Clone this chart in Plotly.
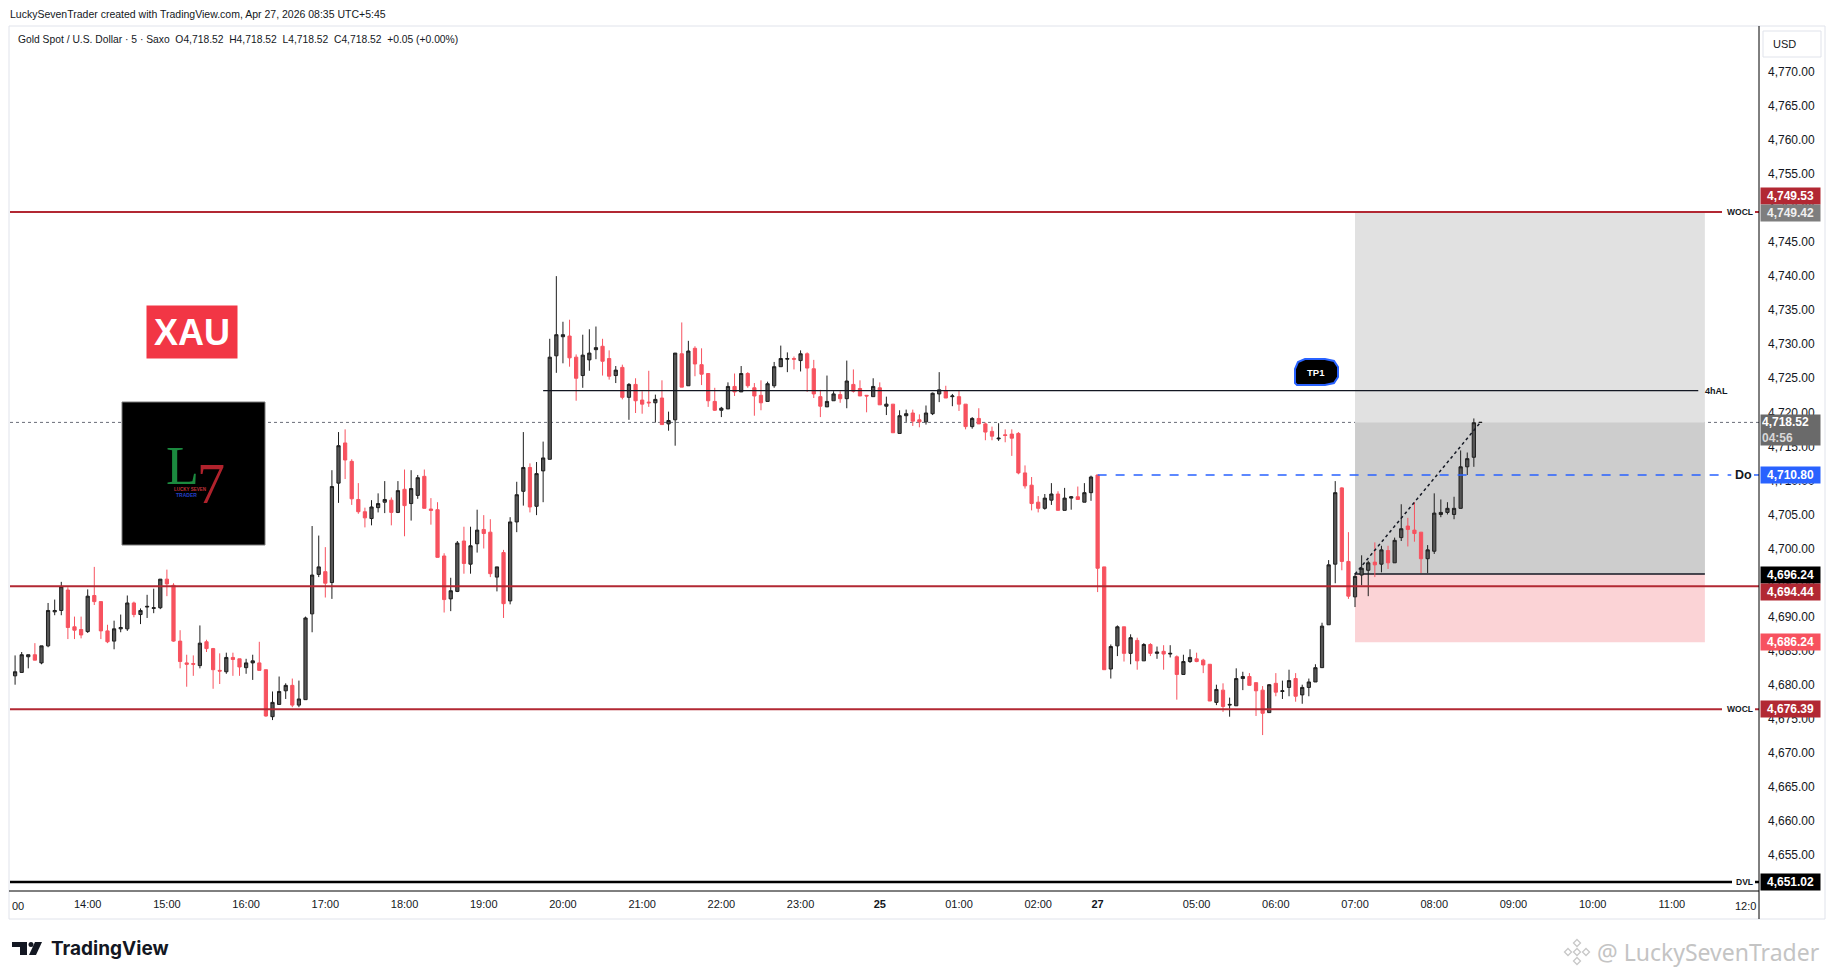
import plotly.graph_objects as go

# ---------------------------------------------------------------
# XAUUSD 5m chart (Saxo) - candles from 13:05 to 08:35
# ---------------------------------------------------------------

# candle opens / highs / lows / closes, one per 5-min bar (index 1..223)
opens = [
    4681.3, 4681.8, 4684.1, 4684.4, 4683.2, 4685.7, 4690.7, 4690.9, 4693.9, 4688.5,
    4688.1, 4687.8, 4693.1, 4692.2, 4687.9, 4686.4, 4688.2, 4688.2, 4692.0, 4690.3,
    4691.4, 4691.2, 4691.3, 4695.5, 4694.6, 4686.4, 4683.2, 4683.1, 4682.8, 4686.3,
    4685.3, 4682.1, 4681.9, 4684.0, 4683.8, 4682.5, 4683.2, 4683.2, 4682.2, 4675.3,
    4677.1, 4679.1, 4679.9, 4677.0, 4677.8, 4690.4, 4696.2, 4696.6, 4695.0, 4709.6,
    4715.5, 4712.8, 4707.2, 4705.4, 4704.4, 4706.0, 4706.8, 4707.1, 4705.3, 4708.7,
    4706.6, 4707.8, 4710.6, 4705.8, 4705.7, 4698.9, 4692.6, 4693.7, 4701.1, 4697.7,
    4700.7, 4702.8, 4702.4, 4695.8, 4699.4, 4692.3, 4703.9, 4708.4, 4711.9, 4706.2,
    4711.4, 4713.1, 4728.3, 4731.1, 4731.2, 4728.1, 4725.4, 4727.7, 4729.2, 4729.7,
    4727.9, 4725.4, 4726.6, 4722.2, 4724.1, 4721.8, 4721.5, 4721.4, 4722.1, 4718.3,
    4718.9, 4728.6, 4723.9, 4729.4, 4727.0, 4725.7, 4721.6, 4720.3, 4720.5, 4723.8,
    4723.0, 4725.7, 4723.6, 4722.5, 4721.6, 4723.9, 4726.7, 4727.8, 4727.9, 4727.6,
    4728.6, 4726.4, 4722.3, 4720.8, 4721.7, 4722.6, 4722.0, 4724.1, 4723.5, 4722.5,
    4722.3, 4723.6, 4720.9, 4721.2, 4716.9, 4719.5, 4719.9, 4718.9, 4718.6, 4719.8,
    4722.7, 4723.2, 4722.3, 4722.3, 4721.2, 4717.9, 4719.1, 4718.3, 4717.2, 4716.1,
    4716.7, 4716.8, 4716.9, 4711.1, 4709.3, 4706.8, 4705.9, 4707.1, 4708.0, 4705.6,
    4707.4, 4707.6, 4706.8, 4708.2, 4710.8, 4697.3, 4682.3, 4685.7, 4688.5, 4684.6,
    4686.5, 4683.5, 4685.9, 4684.6, 4684.9, 4684.5, 4684.1, 4681.5, 4683.4, 4683.8,
    4683.6, 4683.0, 4677.4, 4679.2, 4677.0, 4676.9, 4680.9, 4681.2, 4680.3, 4679.2,
    4675.9, 4680.2, 4679.0, 4679.6, 4680.9, 4678.5, 4679.6, 4680.4, 4682.5, 4688.8,
    4697.7, 4708.9, 4698.1, 4692.9, 4696.1, 4696.8, 4698.0, 4697.7, 4699.7, 4697.9,
    4701.6, 4703.3, 4702.7, 4702.4, 4698.5, 4699.6, 4705.0, 4705.3, 4705.0, 4705.9,
    4712.0, 4713.4, 4718.52,
]
highs = [
    4684.3, 4684.8, 4684.4, 4686.1, 4685.7, 4692.0, 4692.5, 4695.1, 4694.3, 4690.0,
    4690.0, 4694.0, 4697.3, 4692.2, 4688.8, 4689.4, 4690.3, 4693.1, 4692.2, 4691.2,
    4693.2, 4694.1, 4695.5, 4696.9, 4694.9, 4688.0, 4684.4, 4684.3, 4688.7, 4686.6,
    4685.4, 4684.6, 4684.7, 4684.7, 4683.8, 4683.8, 4684.4, 4686.3, 4682.2, 4679.0,
    4681.2, 4680.2, 4680.9, 4680.6, 4690.0, 4703.3, 4701.9, 4700.2, 4711.5, 4717.1,
    4717.5, 4713.1, 4709.6, 4706.0, 4707.1, 4708.1, 4709.9, 4707.5, 4709.9, 4711.6,
    4711.5, 4710.8, 4711.6, 4707.4, 4706.8, 4699.3, 4695.7, 4701.1, 4703.2, 4703.2,
    4705.7, 4704.9, 4704.3, 4697.3, 4699.8, 4704.6, 4709.8, 4717.1, 4712.5, 4712.7,
    4715.7, 4730.8, 4740.0, 4733.3, 4733.6, 4728.5, 4731.4, 4732.2, 4732.6, 4730.8,
    4729.1, 4726.8, 4727.0, 4724.3, 4725.0, 4723.1, 4726.1, 4722.6, 4724.7, 4720.1,
    4728.7, 4733.2, 4730.5, 4729.7, 4729.4, 4725.7, 4723.6, 4720.8, 4724.4, 4725.7,
    4726.8, 4725.9, 4724.3, 4724.7, 4724.5, 4727.4, 4729.8, 4728.8, 4728.2, 4729.1,
    4728.8, 4727.7, 4723.3, 4725.4, 4723.1, 4723.1, 4727.6, 4726.3, 4724.7, 4722.5,
    4725.0, 4724.4, 4722.3, 4721.2, 4720.3, 4720.4, 4720.4, 4719.7, 4721.0, 4722.9,
    4725.9, 4723.9, 4722.7, 4723.2, 4721.2, 4719.3, 4720.6, 4718.5, 4717.9, 4718.4,
    4717.5, 4717.5, 4717.1, 4712.2, 4710.5, 4707.7, 4708.0, 4709.6, 4708.4, 4708.9,
    4707.7, 4709.1, 4709.6, 4710.7, 4710.8, 4697.3, 4685.9, 4688.7, 4688.5, 4687.4,
    4686.9, 4686.1, 4686.1, 4685.6, 4685.8, 4685.8, 4684.3, 4684.4, 4685.2, 4684.7,
    4683.8, 4683.0, 4680.0, 4680.2, 4678.1, 4682.4, 4681.9, 4681.7, 4680.3, 4679.8,
    4680.1, 4681.7, 4680.6, 4682.2, 4681.7, 4680.0, 4680.9, 4683.0, 4689.1, 4698.3,
    4709.9, 4709.0, 4702.4, 4696.4, 4699.0, 4698.2, 4700.9, 4700.4, 4700.4, 4701.6,
    4706.5, 4704.5, 4706.8, 4702.4, 4700.5, 4708.1, 4707.2, 4706.8, 4707.6, 4714.4,
    4714.1, 4719.1, 4718.52,
]
lows = [
    4680.0, 4681.8, 4682.4, 4683.6, 4683.0, 4685.5, 4690.2, 4690.2, 4686.7, 4686.7,
    4686.8, 4687.6, 4691.7, 4686.7, 4686.1, 4685.2, 4687.7, 4687.9, 4689.9, 4688.9,
    4689.8, 4690.5, 4691.1, 4693.0, 4686.3, 4682.4, 4679.7, 4681.3, 4682.4, 4684.8,
    4679.4, 4680.1, 4681.6, 4681.3, 4681.3, 4681.6, 4680.7, 4682.1, 4675.3, 4674.8,
    4677.1, 4677.9, 4676.7, 4676.7, 4677.8, 4687.7, 4695.8, 4692.8, 4692.6, 4706.7,
    4710.2, 4706.4, 4705.1, 4703.1, 4703.4, 4705.3, 4705.2, 4703.4, 4705.2, 4701.8,
    4704.1, 4707.3, 4705.9, 4703.5, 4698.7, 4690.6, 4690.8, 4693.6, 4696.3, 4696.3,
    4699.4, 4700.0, 4695.8, 4693.7, 4689.8, 4691.8, 4702.4, 4706.3, 4705.3, 4704.9,
    4706.8, 4713.1, 4725.8, 4727.2, 4726.7, 4721.7, 4723.6, 4726.1, 4727.8, 4725.4,
    4724.8, 4724.3, 4721.9, 4718.9, 4719.9, 4719.8, 4720.8, 4718.5, 4718.2, 4717.3,
    4715.1, 4723.7, 4723.9, 4725.3, 4724.0, 4720.8, 4720.2, 4719.3, 4720.5, 4722.4,
    4723.0, 4723.6, 4719.5, 4720.3, 4721.6, 4723.6, 4726.7, 4725.9, 4726.3, 4726.0,
    4723.0, 4722.1, 4719.3, 4720.8, 4721.7, 4721.4, 4720.6, 4722.9, 4722.4, 4720.0,
    4722.3, 4721.1, 4719.6, 4717.0, 4716.9, 4718.6, 4718.0, 4717.8, 4718.2, 4719.6,
    4721.5, 4722.1, 4720.9, 4720.2, 4717.5, 4717.6, 4718.3, 4715.9, 4715.9, 4715.8,
    4715.6, 4713.6, 4710.9, 4708.8, 4705.6, 4705.3, 4705.7, 4706.4, 4705.6, 4705.6,
    4705.7, 4707.2, 4706.8, 4707.0, 4693.6, 4682.2, 4680.9, 4684.2, 4683.4, 4683.0,
    4682.2, 4683.5, 4684.2, 4683.8, 4682.2, 4684.0, 4677.8, 4681.5, 4683.2, 4683.3,
    4681.7, 4677.6, 4677.0, 4676.0, 4675.3, 4676.9, 4679.2, 4679.9, 4675.4, 4672.6,
    4675.9, 4678.3, 4677.9, 4678.3, 4677.5, 4677.2, 4678.3, 4680.4, 4682.5, 4688.8,
    4694.9, 4696.8, 4692.6, 4691.4, 4694.6, 4693.0, 4695.8, 4696.5, 4697.0, 4697.9,
    4701.1, 4700.3, 4701.0, 4696.4, 4696.4, 4699.2, 4704.6, 4705.0, 4704.3, 4705.9,
    4710.8, 4712.0, 4718.52,
]
closes = [
    4681.9, 4684.4, 4684.4, 4683.6, 4685.7, 4690.9, 4690.9, 4694.4, 4688.4, 4688.0,
    4687.3, 4693.0, 4692.2, 4687.9, 4686.3, 4688.2, 4688.4, 4692.0, 4690.3, 4690.9,
    4691.5, 4691.3, 4695.5, 4694.8, 4686.4, 4683.4, 4683.0, 4683.0, 4686.1, 4685.3,
    4682.2, 4682.0, 4684.0, 4683.7, 4682.6, 4683.2, 4683.5, 4682.1, 4675.4, 4677.4,
    4679.0, 4679.9, 4677.0, 4677.9, 4689.8, 4696.1, 4697.3, 4694.9, 4709.1, 4715.1,
    4713.0, 4707.3, 4705.4, 4704.5, 4706.1, 4706.6, 4707.2, 4705.3, 4708.5, 4706.3,
    4708.8, 4710.4, 4705.9, 4705.6, 4698.7, 4692.5, 4693.8, 4700.8, 4697.8, 4700.4,
    4702.7, 4702.2, 4696.3, 4697.3, 4691.9, 4703.9, 4707.9, 4711.9, 4706.1, 4711.0,
    4713.3, 4728.1, 4731.4, 4731.4, 4728.0, 4725.0, 4728.4, 4728.7, 4729.5, 4727.5,
    4725.3, 4726.2, 4722.2, 4724.1, 4721.7, 4721.2, 4721.4, 4721.9, 4718.2, 4718.8,
    4728.7, 4723.7, 4729.0, 4727.1, 4725.6, 4721.7, 4720.3, 4720.6, 4723.8, 4723.0,
    4725.7, 4723.9, 4722.4, 4721.4, 4724.2, 4726.7, 4727.9, 4727.9, 4727.8, 4728.6,
    4726.5, 4722.7, 4720.9, 4721.6, 4722.7, 4722.0, 4724.6, 4723.1, 4722.4, 4722.4,
    4723.8, 4721.1, 4721.2, 4717.0, 4719.5, 4719.8, 4718.7, 4718.6, 4719.9, 4722.8,
    4723.3, 4722.1, 4722.4, 4721.2, 4717.9, 4719.1, 4718.3, 4717.1, 4716.5, 4716.2,
    4716.6, 4716.2, 4711.1, 4709.2, 4706.6, 4705.9, 4707.4, 4708.0, 4705.6, 4707.4,
    4707.6, 4707.2, 4708.2, 4710.5, 4697.1, 4682.2, 4685.6, 4688.5, 4684.6, 4686.9,
    4683.5, 4685.9, 4684.6, 4684.8, 4684.5, 4684.6, 4681.5, 4683.4, 4684.0, 4683.4,
    4682.9, 4677.6, 4679.3, 4676.8, 4677.1, 4680.9, 4681.2, 4679.9, 4679.1, 4675.8,
    4680.0, 4678.9, 4679.1, 4680.6, 4678.3, 4679.6, 4680.4, 4682.5, 4688.6, 4697.6,
    4708.2, 4698.1, 4693.0, 4695.9, 4697.1, 4697.9, 4697.6, 4699.8, 4697.9, 4701.2,
    4702.9, 4702.8, 4702.2, 4698.5, 4699.8, 4705.2, 4705.3, 4705.9, 4705.9, 4712.0,
    4713.2, 4718.47, 4718.52,
]
bar_idx = list(range(1, len(opens) + 1))

# time axis (bar index -> label)
time_tick_idx = [12, 24, 36, 48, 60, 72, 84, 96, 108, 120, 132, 144, 156,
                 165, 180, 192, 204, 216, 228, 240, 252]
time_tick_text = ["14:00", "15:00", "16:00", "17:00", "18:00", "19:00", "20:00",
                  "21:00", "22:00", "23:00", "<b>25</b>", "01:00", "02:00",
                  "<b>27</b>", "05:00", "06:00", "07:00", "08:00", "09:00",
                  "10:00", "11:00"]
price_ticks = [4655, 4660, 4665, 4670, 4675, 4680, 4685, 4690, 4695, 4700, 4705,
               4710, 4715, 4720, 4725, 4730, 4735, 4740, 4745, 4750, 4755, 4760,
               4765, 4770]

# drawn levels
wocl_high = 4749.42
wocl_low = 4676.39
red_level = 4694.44
dvl = 4651.02
level_4hal = 4723.2
last_price = 4718.52
daily_open = 4710.80
entry = 4696.24
target = 4749.53
stop = 4686.24

# drawing anchors (bar index)
hal_start, hal_end = 81, 256
do_start, do_end = 165, 261
box_start, box_end = 204, 257
arrow_end = 223

# ---------------------------------------------------------------
# page is 1835 x 979, the html body adds an 8px margin around the figure
W, H = 1835, 979
BODY = 8
FW, FH = W - 2 * BODY, H - 2 * BODY
PL, PR, PT, PB = 10, 1759, 27, 891      # pane in page pixels
X_RANGE = [0.23, 265.2]
Y_RANGE = [4649.70, 4776.59]
FONT = "Liberation Sans, Arial, sans-serif"


def px(x):
    return (x - PL) / (PR - PL)


def py(y):
    return (PB - y) / (PB - PT)


def paper_path(points, close=True):
    d = "M " + " L ".join(f"{px(x):.5f},{py(y):.5f}" for x, y in points)
    return d + (" Z" if close else "")


def note(fig, text, x, y, size, color="#131722", family=FONT, xref="paper", yref="paper",
         xanchor="center", **kw):
    fig.add_annotation(xref=xref, yref=yref, x=x, y=y, text=text, showarrow=False,
                       xanchor=xanchor, yanchor="middle",
                       font=dict(size=size, color=color, family=family), **kw)


fig = go.Figure()

fig.add_trace(go.Candlestick(
    x=bar_idx, open=opens, high=highs, low=lows, close=closes,
    increasing=dict(line=dict(color="#1e1e1e", width=1), fillcolor="#565656"),
    decreasing=dict(line=dict(color="#f7525f", width=1), fillcolor="#f7525f"),
    showlegend=False,
))

# long position tool
fig.add_shape(type="rect", x0=box_start, x1=box_end, y0=entry, y1=target,
              fillcolor="#e1e1e1", line_width=0, layer="below")
fig.add_shape(type="rect", x0=box_start, x1=box_end, y0=entry, y1=last_price,
              fillcolor="#cdcdcd", line_width=0, layer="below")
fig.add_shape(type="rect", x0=box_start, x1=box_end, y0=stop, y1=entry,
              fillcolor="#fbd3d6", line_width=0, layer="below")
fig.add_shape(type="line", x0=box_start, x1=box_end, y0=entry, y1=entry,
              line=dict(color="#131722", width=1.5), layer="below")

# current price dotted line
fig.add_shape(type="line", xref="paper", x0=0, x1=1, y0=last_price, y1=last_price,
              line=dict(color="#6a6d78", width=1, dash="dot"), layer="below")

# horizontal levels
for lvl, col, wid, end in [(wocl_high, "#b22833", 2, 1722), (red_level, "#b22833", 2, 1759),
                           (wocl_low, "#b22833", 2, 1722), (dvl, "#000000", 2.5, 1732)]:
    fig.add_shape(type="line", xref="paper", x0=0, x1=px(end), y0=lvl, y1=lvl,
                  line=dict(color=col, width=wid))
    if end < 1759:
        fig.add_shape(type="line", xref="paper", x0=px(1755), x1=1, y0=lvl, y1=lvl,
                      line=dict(color=col, width=wid))

fig.add_shape(type="line", x0=hal_start, x1=hal_end, y0=level_4hal, y1=level_4hal,
              line=dict(color="#131722", width=1.3))
fig.add_shape(type="line", x0=do_start, x1=do_end, y0=daily_open, y1=daily_open,
              line=dict(color="#2962ff", width=1.5, dash="dash"))
fig.add_shape(type="line", xref="paper", x0=px(1754), x1=1, y0=daily_open, y1=daily_open,
              line=dict(color="#2962ff", width=1.5))
fig.add_shape(type="line", x0=box_start, x1=arrow_end, y0=entry, y1=last_price,
              line=dict(color="#131722", width=1.5, dash="3px,3px"))

# level captions
for txt, lvl, xc, size in [("<b>WOCL</b>", wocl_high, 1740, 8.5), ("<b>WOCL</b>", wocl_low, 1740, 8.5),
                           ("<b>DVL</b>", dvl, 1744, 8.5), ("<b>4hAL</b>", level_4hal, 1716, 9),
                           ("<b>Do</b>", daily_open, 1743, 12.5)]:
    note(fig, txt, px(xc), lvl, size, yref="y")

# price scale labels
scale_labels = [
    (target, "#b22833", "white", 15), (wocl_high, "#7e7e7e", "#f0f0f0", -1),
    (daily_open, "#2962ff", "white", 0), (entry, "#000000", "white", -1),
    (red_level, "#b22833", "white", -6), (stop, "#f7525f", "white", 0),
    (wocl_low, "#b22833", "white", 0), (dvl, "#000000", "white", 0),
]
for lvl, bg, fg, shift in scale_labels:
    note(fig, f"<b>{lvl:,.2f}</b>", px(1760), lvl, 12, color=fg, yref="y", xanchor="left",
         yshift=shift, bgcolor=bg, width=57, height=14, borderpad=1)
note(fig, f"<b>{last_price:,.2f}</b><br><span style='color:#d8d8d8'><b>04:56</b></span>",
     px(1760), last_price, 12, color="white", yref="y", xanchor="left", yshift=-8,
     bgcolor="#6a6a6a", width=57, height=28, borderpad=1, align="left")

# frame, axis lines, USD box
fig.add_shape(type="rect", xref="paper", yref="paper", x0=px(9), x1=px(1825), y0=py(919), y1=py(26),
              line=dict(color="#e0e3eb", width=1))
fig.add_shape(type="line", xref="paper", yref="paper", x0=1, x1=1, y0=py(919), y1=py(26),
              line=dict(color="#000000", width=1))
fig.add_shape(type="line", xref="paper", yref="paper", x0=px(9), x1=1, y0=0, y1=0,
              line=dict(color="#000000", width=1))
fig.add_shape(type="rect", xref="paper", yref="paper", x0=px(1763), x1=px(1821), y0=py(57), y1=py(31),
              line=dict(color="#e0e3eb", width=1), fillcolor="white")
note(fig, "USD", px(1771), py(44), 11, xanchor="left")

# edge time labels clipped by the pane
note(fig, "00", px(10), py(906), 11, xanchor="left")
note(fig, "12:0", px(1758), py(906), 11, xanchor="right")

# header
note(fig, "LuckySevenTrader created with TradingView.com, Apr 27, 2026 08:35 UTC+5:45",
     px(8), py(14), 10.5, xanchor="left")
nb = "\u00a0\u00a0"
note(fig, f"Gold Spot / U.S. Dollar · 5 · Saxo{nb}O4,718.52{nb}H4,718.52{nb}L4,718.52"
          f"{nb}C4,718.52{nb}+0.05 (+0.00%)", px(16), py(40), 10.3, xanchor="left")

# XAU tag
note(fig, "<b>XAU</b>", px(192), py(331.5), 36, color="white",
     bgcolor="#f23645", width=88, height=50, borderpad=1)

# L7 logo
fig.add_shape(type="rect", xref="paper", yref="paper", x0=px(122), x1=px(265), y0=py(545), y1=py(402),
              fillcolor="#000000", line=dict(color="#7a7a7a", width=1))
note(fig, "L", px(182.5), py(466), 54, color="#1b8a3f", family="Liberation Serif, serif")
note(fig, "7", px(211), py(484), 56, color="#b0222c", family="Liberation Serif, serif")
note(fig, "<b>LUCKY SEVEN</b>", px(190), py(489), 4.5, color="#c0303a")
note(fig, "<b>TRADER</b>", px(186), py(495), 5, color="#2540c8")

# TP1 tag
tp = [(1305, 359), (1325, 359), (1334, 361), (1338, 367), (1338, 377), (1334, 383),
      (1325, 385), (1297, 385), (1295, 383), (1295, 369), (1298, 362)]
fig.add_shape(type="path", xref="paper", yref="paper", path=paper_path(tp),
              fillcolor="#000000", line=dict(color="#2962ff", width=2))
note(fig, "<b>TP1</b>", px(1316), py(372), 9.5, color="white")

# TradingView footer logo
fig.add_shape(type="path", xref="paper", yref="paper",
              path=paper_path([(12, 942), (27, 942), (27, 955), (20, 955), (20, 947), (12, 947)]),
              fillcolor="#131722", line_width=0)
fig.add_shape(type="circle", xref="paper", yref="paper", x0=px(28.5), x1=px(33.5), y0=py(947), y1=py(942),
              fillcolor="#131722", line_width=0)
fig.add_shape(type="path", xref="paper", yref="paper",
              path=paper_path([(35, 942), (42, 942), (36, 955), (29, 955)]),
              fillcolor="#131722", line_width=0)
note(fig, "<b>TradingView</b>", px(49), py(948), 19, family="Inter, sans-serif", xanchor="left")

# watermark
for cx, cy, r in [(1577, 952, 3.5), (1577, 943, 3.5), (1577, 961, 3.5), (1568, 952, 3.5), (1586, 952, 3.5)]:
    fig.add_shape(type="path", xref="paper", yref="paper",
                  path=paper_path([(cx, cy - r), (cx + r, cy), (cx, cy + r), (cx - r, cy)]),
                  line=dict(color="#c8c8c8", width=1.3))
note(fig, "@ LuckySevenTrader", px(1595), py(952), 23, color="#c4c4c4",
     family="Noto Sans, sans-serif", xanchor="left")

fig.update_layout(
    width=FW, height=FH,
    margin=dict(l=PL - BODY, r=FW - (PR - BODY), t=PT - BODY, b=FH - (PB - BODY)),
    paper_bgcolor="white", plot_bgcolor="white",
    font=dict(family=FONT, color="#131722"),
    showlegend=False,
    xaxis=dict(range=X_RANGE, rangeslider=dict(visible=False), showgrid=False, zeroline=False,
               tickvals=time_tick_idx, ticktext=time_tick_text, ticks="", ticklabelstandoff=5,
               tickfont=dict(size=11, color="#131722")),
    yaxis=dict(range=Y_RANGE, side="right", showgrid=False, zeroline=False,
               tickvals=price_ticks, tickformat=",.2f", ticks="", ticklabelstandoff=8,
               tickfont=dict(size=12, color="#131722")),
)

fig.write_html("out.html")
